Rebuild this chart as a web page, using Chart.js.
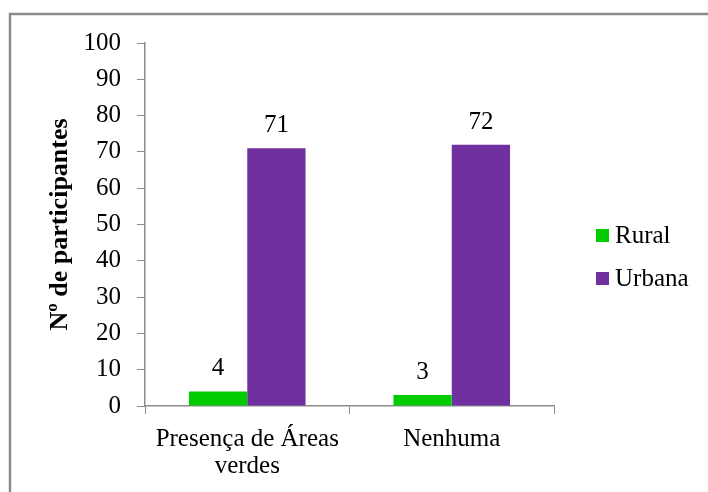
<!DOCTYPE html>
<html>
<head>
<meta charset="utf-8">
<script src="https://cdn.jsdelivr.net/npm/chart.js@4/dist/chart.umd.min.js"></script>
<style>
  html, body { margin: 0; padding: 0; background: #fff; }
  #wrap { width: 708px; height: 492px; }
</style>
</head>
<body>
<div id="wrap"><canvas id="c" width="708" height="492"></canvas></div>
<script>
// Participants by type of area near home, rural vs urban
const categories = [['Presença de Áreas', 'verdes'], 'Nenhuma'];
const seriesNames = ['Rural', 'Urbana'];
const ruralValues = [4, 3];
const urbanaValues = [71, 72];
const seriesColors = ['#00CC00', '#7030A0'];
const yTicks = [0, 10, 20, 30, 40, 50, 60, 70, 80, 90, 100];

const serif = '"Liberation Serif", "Times New Roman", serif';
const axisGray = '#8C8C8C';

// Outer frame around the whole figure
const framePlugin = {
  id: 'frame',
  beforeDraw(chart) {
    const ctx = chart.ctx;
    ctx.save();
    ctx.fillStyle = '#fff';
    ctx.fillRect(0, 0, chart.width, chart.height);
    ctx.strokeStyle = '#8A8A8A';
    ctx.lineWidth = 2.5;
    ctx.strokeRect(10, 14, 800, 600);
    ctx.restore();
  }
};

// Value labels above each bar
const valueLabels = {
  id: 'valueLabels',
  afterDatasetsDraw(chart) {
    const ctx = chart.ctx;
    ctx.save();
    ctx.font = '25px ' + serif;
    ctx.fillStyle = '#000';
    ctx.textAlign = 'center';
    ctx.textBaseline = 'alphabetic';
    chart.data.datasets.forEach((ds, di) => {
      chart.getDatasetMeta(di).data.forEach((bar, i) => {
        ctx.fillText(String(ds.data[i]), bar.x, bar.y - 16);
      });
    });
    ctx.restore();
  }
};

// Legend drawn to the right of the plot
const sideLegend = {
  id: 'sideLegend',
  afterDraw(chart) {
    const ctx = chart.ctx;
    ctx.save();
    ctx.font = '25px ' + serif;
    ctx.textBaseline = 'middle';
    const x = 596, y0 = 235, gap = 43;
    chart.data.datasets.forEach((ds, i) => {
      const y = y0 + i * gap;
      ctx.fillStyle = ds.backgroundColor;
      ctx.fillRect(x, y - 6, 13, 13);
      ctx.fillStyle = '#000';
      ctx.textAlign = 'left';
      ctx.fillText(ds.label, x + 19, y + 1);
    });
    ctx.restore();
  }
};

new Chart(document.getElementById('c'), {
  type: 'bar',
  data: {
    labels: categories,
    datasets: [
      { label: seriesNames[0], data: ruralValues, backgroundColor: seriesColors[0] },
      { label: seriesNames[1], data: urbanaValues, backgroundColor: seriesColors[1] }
    ]
  },
  options: {
    responsive: false,
    animation: false,
    devicePixelRatio: 1,
    layout: { padding: { top: 43, right: 154, bottom: 0, left: 43 } },
    datasets: { bar: { categoryPercentage: 0.57, barPercentage: 1.0 } },
    plugins: {
      legend: { display: false },
      tooltip: { enabled: false }
    },
    scales: {
      x: {
        grid: { display: true, drawOnChartArea: false, offset: true, color: axisGray, tickLength: 8, tickColor: axisGray },
        border: { color: axisGray, width: 1.5 },
        ticks: { color: '#000', font: { family: serif, size: 25, lineHeight: 1.08 }, padding: 12, maxRotation: 0 },
        afterFit(scale) { scale.height = 86; }
      },
      y: {
        min: 0, max: 100,
        afterBuildTicks(scale) { scale.ticks = yTicks.map(v => ({ value: v })); },
        grid: { display: true, drawOnChartArea: false, color: axisGray, tickLength: 8, tickColor: axisGray },
        border: { color: axisGray, width: 1.5 },
        ticks: { color: '#000', font: { family: serif, size: 25 }, padding: 16 },
        title: {
          display: true,
          text: 'Nº de participantes',
          color: '#000',
          font: { family: serif, size: 26, weight: 'bold' },
          padding: { top: 2, bottom: 0 }
        },
        afterFit(scale) { scale.width = 102; }
      }
    }
  },
  plugins: [framePlugin, valueLabels, sideLegend]
});
</script>
</body>
</html>
